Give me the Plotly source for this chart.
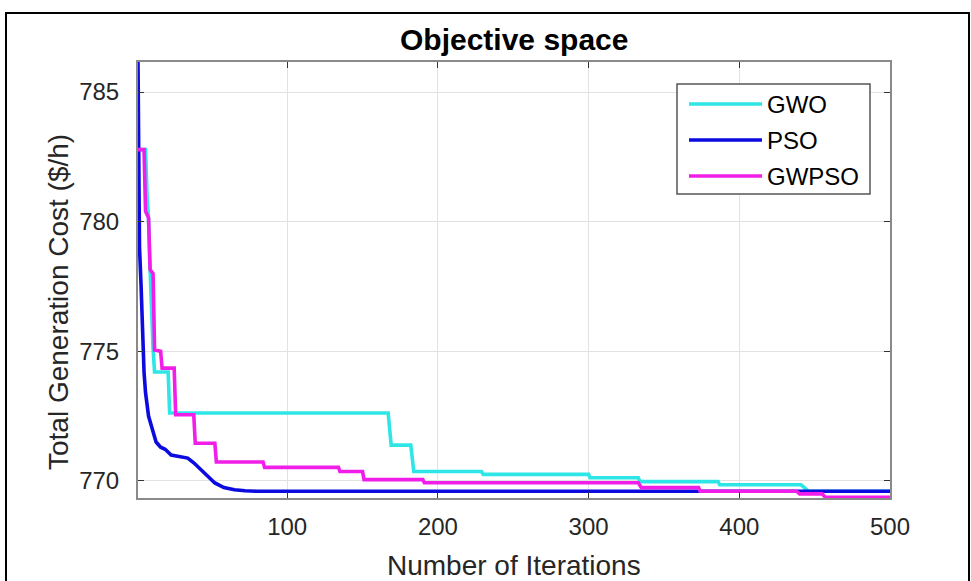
import plotly.graph_objects as go

# Convergence histories (iteration, best total generation cost in $/h)
gwo_iter = [1, 6, 7, 8, 9, 10, 11, 12, 21, 22, 167, 169, 182, 184, 229, 230, 300, 301,
            333, 334, 386, 387, 441, 446, 500]
gwo_cost = [782.78, 782.78, 781.0, 780.1, 778.2, 776.4, 775.1, 774.2, 774.2, 772.62, 772.62,
            771.38, 771.38, 770.36, 770.36, 770.25, 770.25, 770.12, 770.12, 769.97, 769.97,
            769.85, 769.85, 769.6, 769.6]

pso_iter = [1, 2, 3, 4, 5, 6, 7, 8, 10, 13, 16, 19, 23, 28, 34, 38, 43, 48, 52, 58, 65,
            72, 80, 500]
pso_cost = [786.16, 779.0, 777.6, 775.4, 774.2, 773.4, 772.9, 772.5, 772.1, 771.5, 771.3,
            771.22, 771.0, 770.95, 770.88, 770.7, 770.42, 770.15, 769.92, 769.74, 769.66,
            769.62, 769.6, 769.6]

gwpso_iter = [1, 5, 6, 8, 9, 11, 12, 16, 17, 25, 26, 38, 39, 52, 53, 84, 85, 134, 135,
              150, 151, 190, 191, 333, 335, 373, 374, 438, 440, 455, 457, 500]
gwpso_cost = [782.78, 782.78, 780.4, 780.15, 778.15, 778.0, 775.05, 775.0, 774.35, 774.35,
              772.55, 772.55, 771.45, 771.45, 770.73, 770.73, 770.52, 770.52, 770.36,
              770.36, 770.05, 770.05, 769.93, 769.93, 769.74, 769.74, 769.6, 769.6, 769.5,
              769.5, 769.37, 769.37]

x_ticks = [100, 200, 300, 400, 500]
y_ticks = [770, 775, 780, 785]
x_limits = [1, 500]
y_limits = [769.34, 786.16]

series = [
    ("GWO", gwo_iter, gwo_cost, "#2FE6E6"),
    ("PSO", pso_iter, pso_cost, "#0B0BE0"),
    ("GWPSO", gwpso_iter, gwpso_cost, "#F01EE8"),
]

FONT = "Liberation Sans, Arial, Helvetica, sans-serif"

fig = go.Figure()
for name, xs, ys, color in series:
    fig.add_trace(go.Scatter(x=xs, y=ys, mode="lines", name=name,
                             line=dict(color=color, width=3.6),
                             showlegend=False))

# Plot area in pixels: left 138, right 890, top 62, bottom 498
W, H = 971, 581
L, R, T, B = 138, 890, 62, 498
pw, ph = R - L, B - T


def px(x):
    return (x - L) / pw


def py(y):
    return (B - y) / ph


axis_common = dict(
    showgrid=True, gridcolor="#e2e2e2", gridwidth=1,
    showline=True, linecolor="#8a8a8a", linewidth=2, mirror="ticks",
    ticks="inside", ticklen=6, tickwidth=1, tickcolor="#333333",
    tickfont=dict(family=FONT, size=24, color="#262626"),
    zeroline=False,
)

fig.update_xaxes(range=x_limits, tickvals=x_ticks, ticklabelstandoff=6, **axis_common)
fig.update_yaxes(range=y_limits, tickvals=y_ticks, ticklabelstandoff=12, **axis_common)

shapes = [
    # figure frame
    dict(type="rect", xref="paper", yref="paper",
         x0=px(6), x1=px(969), y0=py(590), y1=py(13),
         line=dict(color="black", width=2), fillcolor="rgba(0,0,0,0)", layer="above"),
    # legend box
    dict(type="rect", xref="paper", yref="paper",
         x0=px(677), x1=px(870), y0=py(194), y1=py(84),
         line=dict(color="#555555", width=1.5), fillcolor="white", layer="above"),
]
annotations = [
    dict(text="<b>Objective space</b>", xref="paper", yref="paper",
         x=0.5, y=py(40), xanchor="center", yanchor="middle", showarrow=False,
         font=dict(family=FONT, size=30, color="black")),
    dict(text="Number of Iterations", xref="paper", yref="paper",
         x=0.5, y=py(565), xanchor="center", yanchor="middle", showarrow=False,
         font=dict(family=FONT, size=28, color="#262626")),
    dict(text="Total Generation Cost ($/h)", xref="paper", yref="paper",
         x=px(58), y=py(302), xanchor="center", yanchor="middle", showarrow=False,
         textangle=-90, font=dict(family=FONT, size=28, color="#262626")),
]

rows_y = [104, 140, 176]
for (name, _, _, color), ry in zip(series, rows_y):
    shapes.append(dict(type="line", xref="paper", yref="paper",
                       x0=px(689), x1=px(762), y0=py(ry), y1=py(ry),
                       line=dict(color=color, width=3.6), layer="above"))
    annotations.append(dict(text=name, xref="paper", yref="paper",
                            x=px(765), y=py(ry), xanchor="left", yanchor="middle",
                            showarrow=False,
                            font=dict(family=FONT, size=24, color="black")))

fig.update_layout(
    width=W, height=H,
    margin=dict(l=L, r=W - R, t=T, b=H - B),
    paper_bgcolor="white", plot_bgcolor="white",
    shapes=shapes, annotations=annotations,
    showlegend=False,
)

fig.write_html("out.html")
